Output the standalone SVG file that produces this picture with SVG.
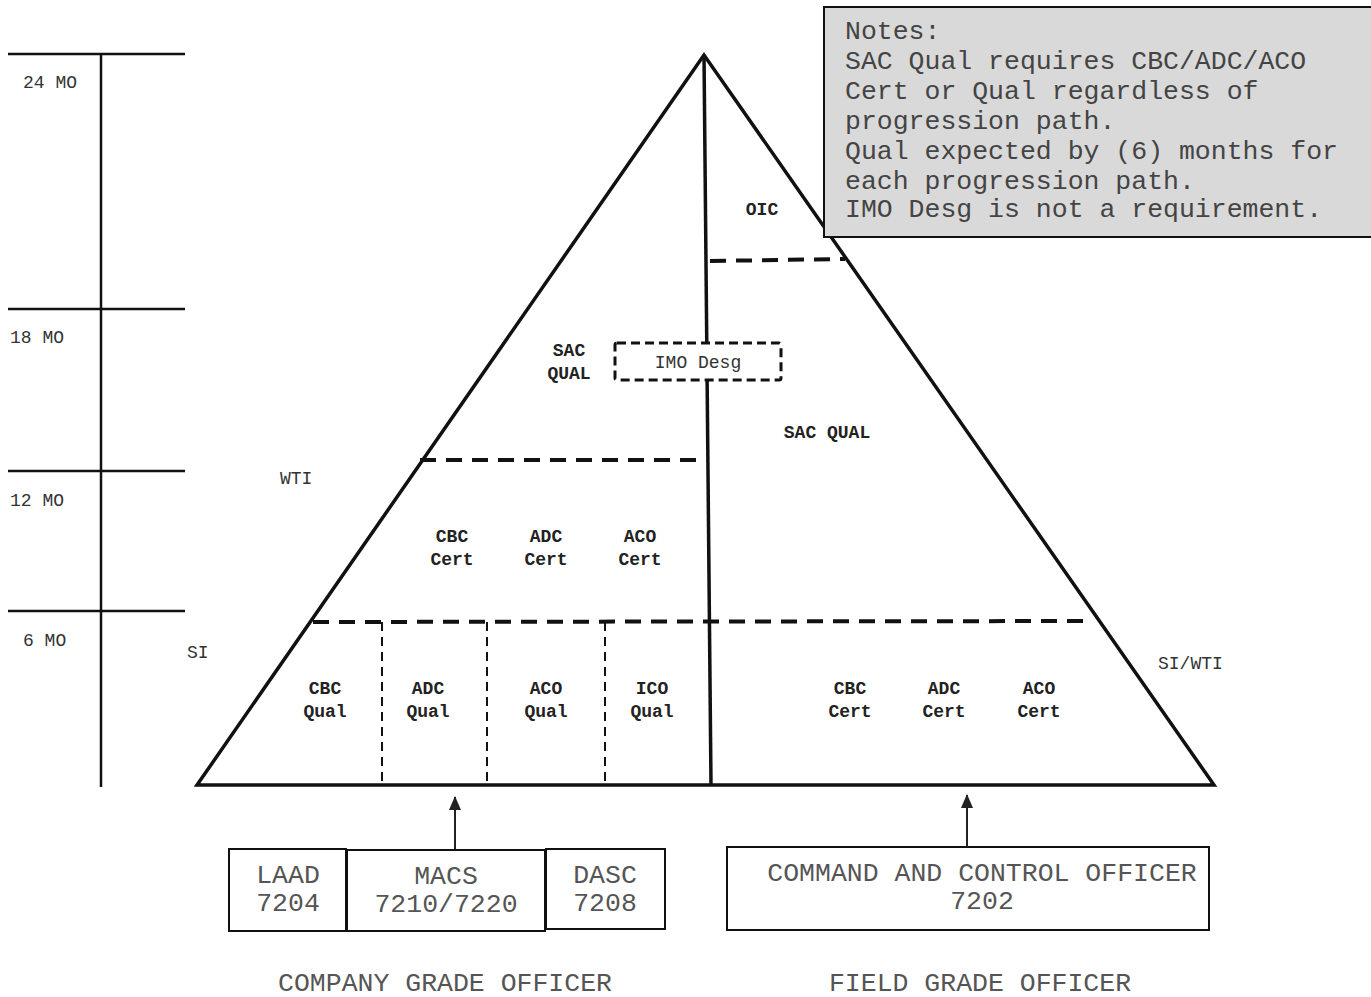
<svg xmlns="http://www.w3.org/2000/svg" width="1371" height="997" viewBox="0 0 1371 997">
<style>
.ln{stroke:#111;stroke-width:3.5;fill:none}
.tl{stroke:#111;stroke-width:2.5;fill:none}
.dash{stroke:#111;stroke-width:4;stroke-dasharray:16 10;fill:none}
.vdash{stroke:#111;stroke-width:2;stroke-dasharray:9 6;fill:none}
.box{stroke:#111;stroke-width:2;fill:#fff}
.mo{font-family:"Liberation Mono","Courier New",monospace;font-size:18px;fill:#333}
.lb{font-family:"Liberation Mono","Courier New",monospace;font-size:18px;font-weight:bold;fill:#222;text-anchor:middle}
.lr{font-family:"Liberation Mono","Courier New",monospace;font-size:18px;fill:#333}
.big{font-family:"Liberation Mono","Courier New",monospace;font-size:26.5px;fill:#555;text-anchor:middle}
.note{font-family:"Liberation Mono","Courier New",monospace;font-size:26.5px;fill:#444}
</style>
<defs>
<marker id="ah" markerWidth="14" markerHeight="12" refX="13" refY="6" orient="auto" markerUnits="userSpaceOnUse" viewBox="0 0 14 12">
<path d="M0,0 L14,6 L0,12 Z" fill="#222"/>
</marker>
</defs>
<rect width="1371" height="997" fill="#fff"/>

<g id="timeline">
<line class="tl" x1="8" y1="54" x2="185" y2="54"/>
<line class="tl" x1="8" y1="309" x2="185" y2="309"/>
<line class="tl" x1="8" y1="471" x2="185" y2="471"/>
<line class="tl" x1="8" y1="611" x2="185" y2="611"/>
<line class="tl" x1="101" y1="54" x2="101" y2="787"/>
<text class="mo" x="23" y="88">24 MO</text>
<text class="mo" x="10" y="343">18 MO</text>
<text class="mo" x="10" y="506">12 MO</text>
<text class="mo" x="23" y="646">6 MO</text>
</g>

<g id="pyramid">
<path class="ln" d="M704,55 L197,785 L1214,785 Z"/>
<line class="ln" x1="704" y1="55" x2="711" y2="785"/>
<line class="dash" x1="710" y1="261" x2="845" y2="259"/>
<line class="dash" x1="420" y1="460" x2="697" y2="460"/>
<line class="dash" x1="313" y1="622" x2="1090" y2="621"/>
<line class="vdash" x1="382" y1="622" x2="382" y2="785"/>
<line class="vdash" x1="487" y1="622" x2="487" y2="785"/>
<line class="vdash" x1="605" y1="622" x2="605" y2="785"/>
</g>

<g id="imo">
<rect x="615" y="343" width="166" height="37" rx="2" fill="#fff" stroke="#111" stroke-width="3" stroke-dasharray="9 5"/>
<text class="lr" x="698" y="368" text-anchor="middle" fill="#555">IMO Desg</text>
</g>

<g id="labels">
<text class="lb" x="762" y="215">OIC</text>
<text class="lb" x="569" y="356">SAC</text>
<text class="lb" x="569" y="379">QUAL</text>
<text class="lb" x="827" y="438">SAC QUAL</text>
<text class="lr" x="280" y="484">WTI</text>
<text class="lb" x="452" y="542">CBC</text>
<text class="lb" x="452" y="565">Cert</text>
<text class="lb" x="546" y="542">ADC</text>
<text class="lb" x="546" y="565">Cert</text>
<text class="lb" x="640" y="542">ACO</text>
<text class="lb" x="640" y="565">Cert</text>
<text class="lr" x="187" y="658">SI</text>
<text class="lb" x="325" y="694">CBC</text>
<text class="lb" x="325" y="717">Qual</text>
<text class="lb" x="428" y="694">ADC</text>
<text class="lb" x="428" y="717">Qual</text>
<text class="lb" x="546" y="694">ACO</text>
<text class="lb" x="546" y="717">Qual</text>
<text class="lb" x="652" y="694">ICO</text>
<text class="lb" x="652" y="717">Qual</text>
<text class="lr" x="1158" y="669">SI/WTI</text>
<text class="lb" x="850" y="694">CBC</text>
<text class="lb" x="850" y="717">Cert</text>
<text class="lb" x="944" y="694">ADC</text>
<text class="lb" x="944" y="717">Cert</text>
<text class="lb" x="1039" y="694">ACO</text>
<text class="lb" x="1039" y="717">Cert</text>
</g>

<g id="notes">
<rect x="824" y="7" width="556" height="230" fill="#d9d9d9" stroke="#111" stroke-width="2"/>
<text class="note" x="845" y="39">Notes:</text>
<text class="note" x="845" y="69">SAC Qual requires CBC/ADC/ACO</text>
<text class="note" x="845" y="99">Cert or Qual regardless of</text>
<text class="note" x="845" y="129">progression path.</text>
<text class="note" x="845" y="159">Qual expected by (6) months for</text>
<text class="note" x="845" y="189">each progression path.</text>
<text class="note" x="845" y="217">IMO Desg is not a requirement.</text>
</g>

<g id="laad">
<rect class="box" x="229" y="849" width="117" height="82"/>
<text class="big" x="288" y="883">LAAD</text>
<text class="big" x="288" y="911">7204</text>
</g>
<g id="macs">
<rect class="box" x="347" y="850" width="198" height="81"/>
<text class="big" x="446" y="884">MACS</text>
<text class="big" x="446" y="912">7210/7220</text>
</g>
<g id="dasc">
<rect class="box" x="546" y="849" width="119" height="80"/>
<text class="big" x="605" y="883">DASC</text>
<text class="big" x="605" y="911">7208</text>
</g>
<g id="c2o">
<rect class="box" x="727" y="847" width="482" height="83"/>
<text class="big" x="982" y="881">COMMAND AND CONTROL OFFICER</text>
<text class="big" x="982" y="909">7202</text>
</g>

<g id="connectors">
<line x1="455" y1="849" x2="455" y2="797" stroke="#222" stroke-width="2" marker-end="url(#ah)"/>
<line x1="967" y1="847" x2="967" y2="795" stroke="#222" stroke-width="2" marker-end="url(#ah)"/>
</g>

<g id="footer">
<text class="big" x="445" y="991">COMPANY GRADE OFFICER</text>
<text class="big" x="980" y="991">FIELD GRADE OFFICER</text>
</g>
</svg>
